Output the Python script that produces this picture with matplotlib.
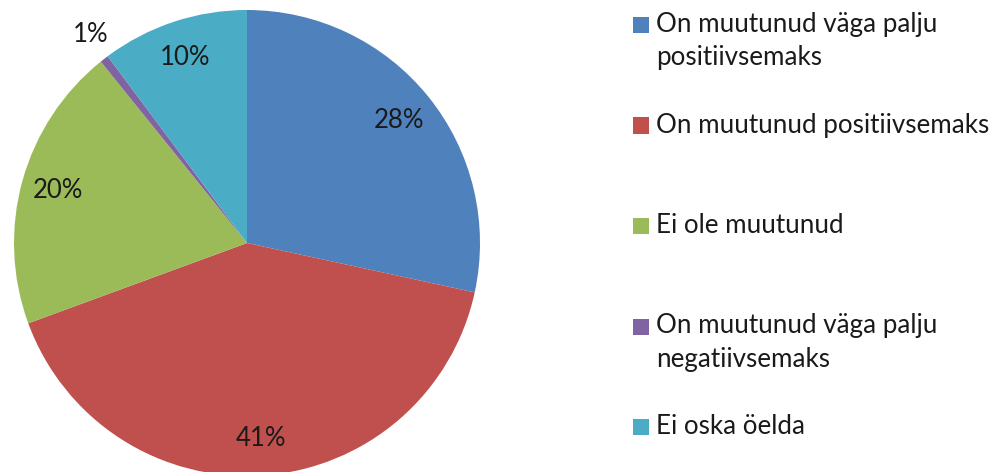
import numpy as np
import matplotlib
matplotlib.use("Agg")
import matplotlib.pyplot as plt
from matplotlib.patches import Rectangle

plt.rcParams['font.family'] = ['Lato', 'DejaVu Sans']

categories = [
    "On muutunud väga palju\npositiivsemaks",
    "On muutunud positiivsemaks",
    "Ei ole muutunud",
    "On muutunud väga palju\nnegatiivsemaks",
    "Ei oska öelda",
]
values = [28.4, 41.0, 19.8, 0.6, 10.2]
colors = ["#4F81BD", "#C0504D", "#9BBB59", "#8064A2", "#4BACC6"]

W, H = 996, 472
fig = plt.figure(figsize=(W / 100, H / 100), dpi=100)
cx, cy, r = 247, 243, 233
ax = fig.add_axes([(cx - r) / W, (H - cy - r) / H, 2 * r / W, 2 * r / H])

wedges, texts, autotexts = ax.pie(
    values, colors=colors, startangle=90, counterclock=False,
    autopct='%.0f%%', pctdistance=0.84, radius=1,
    wedgeprops=dict(linewidth=0),
    textprops=dict(fontsize=18.5, color='#1a1a1a'),
)
ax.set_xlim(-1, 1)
ax.set_ylim(-1, 1)
ax.set_aspect('equal')
ax.axis('off')

# small slice label placed outside
w = wedges[3]
ang = np.deg2rad((w.theta1 + w.theta2) / 2)
autotexts[3].set_position((1.13 * np.cos(ang) + 0.02, 1.13 * np.sin(ang)))

# legend drawn manually
sq = 16
x_sq, x_txt = 633, 656
y0, dy = 25, 100.5
for i, (lab, col) in enumerate(zip(categories, colors)):
    y = y0 + dy * i
    fig.patches.append(Rectangle(((x_sq) / W, (H - y - sq / 2) / H), sq / W, sq / H,
                                 transform=fig.transFigure, facecolor=col, edgecolor='none'))
    fig.text(x_txt / W, (H - y + 13) / H, lab, fontsize=18.7, color='#1a1a1a',
             va='top', ha='left', linespacing=1.42)

fig.savefig("out.png", dpi=100)
